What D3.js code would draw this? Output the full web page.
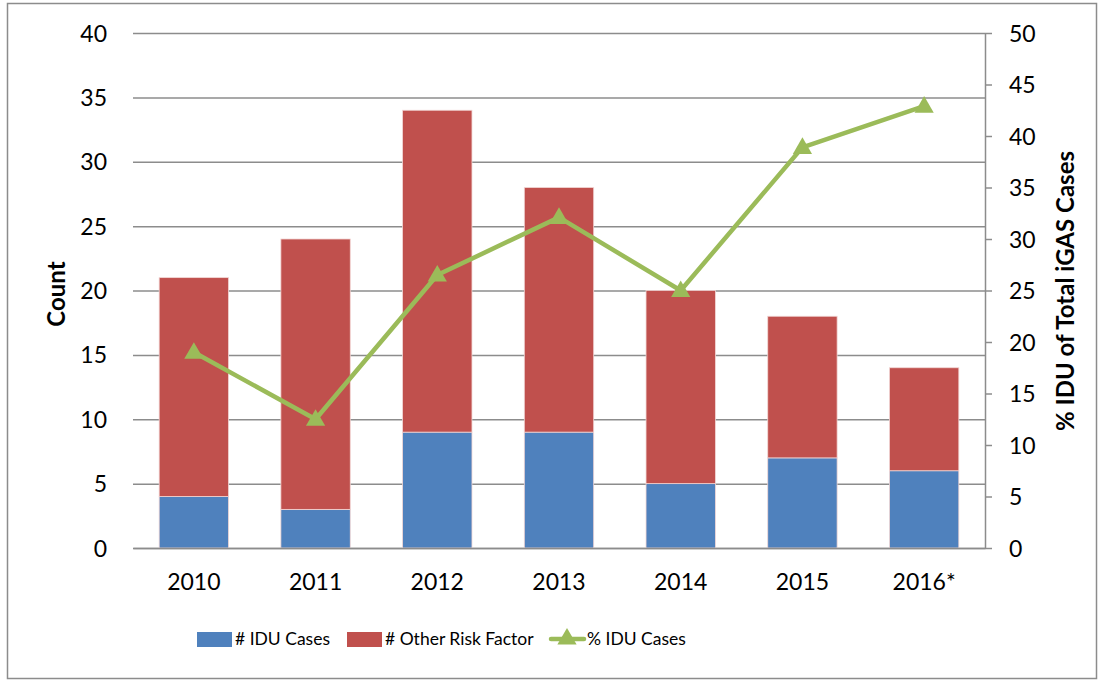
<!DOCTYPE html>
<html>
<head>
<meta charset="utf-8">
<script src="https://cdn.jsdelivr.net/npm/d3@7"></script>
<style>
  body { margin: 0; background: #fff; }
  svg text { font-family: Lato, sans-serif; fill: #000; }
</style>
</head>
<body>
<svg id="chart"></svg>
<script>
// chart data
const years = ["2010", "2011", "2012", "2013", "2014", "2015", "2016*"];
const iduCases = [4, 3, 9, 9, 5, 7, 6];
const otherRisk = [17, 21, 25, 19, 15, 11, 8];
const pctIdu = [19.0, 12.5, 26.5, 32.1, 25.0, 38.9, 42.9];
const leftTicks = [0, 5, 10, 15, 20, 25, 30, 35, 40];
const rightTicks = [0, 5, 10, 15, 20, 25, 30, 35, 40, 45, 50];
const legendNames = ["# IDU Cases", "# Other Risk Factor", "% IDU Cases"];

const width = 1103;
const height = 681;
const plotLeft = 133, plotRight = 985, plotTop = 33, plotBottom = 548;

const blue = "#4f81bd", red = "#c0504d", green = "#9bbb59", grid = "#8c8c8c";

const svg = d3.select("#chart")
  .attr("width", width)
  .attr("height", height);

// outer frame
svg.append("rect")
  .attr("x", 7.5).attr("y", 3.5)
  .attr("width", 1089).attr("height", 675)
  .attr("fill", "#fff")
  .attr("stroke", "#8c8c8c")
  .attr("stroke-width", 1.5);

const x = d3.scaleBand()
  .domain(years)
  .range([plotLeft, plotRight])
  .paddingInner(0.43)
  .paddingOuter(0.215);

const y = d3.scaleLinear().domain([0, 40]).range([plotBottom, plotTop]);
const y2 = d3.scaleLinear().domain([0, 50]).range([plotBottom, plotTop]);

// gridlines from left axis
const yAxis = d3.axisLeft(y)
  .tickValues(leftTicks)
  .tickSize(-(plotRight - plotLeft))
  .tickPadding(26);

svg.append("g")
  .attr("transform", `translate(${plotLeft},0)`)
  .call(yAxis)
  .call(g => g.select(".domain").remove())
  .call(g => g.selectAll("line").attr("stroke", grid).attr("stroke-width", 1.5))
  .call(g => g.selectAll("text").style("font-size", "23px").attr("dy", "0.35em"));

// right axis
const y2Axis = d3.axisRight(y2)
  .tickValues(rightTicks)
  .tickSize(7)
  .tickSizeOuter(0)
  .tickPadding(17);

svg.append("g")
  .attr("transform", `translate(${plotRight},0)`)
  .call(y2Axis)
  .call(g => g.select(".domain").attr("stroke", grid).attr("stroke-width", 1.5))
  .call(g => g.selectAll("line").attr("stroke", grid).attr("stroke-width", 1.5))
  .call(g => g.selectAll("text").style("font-size", "23px").attr("dy", "0.35em"));

// stacked bars
const stackData = years.map((yr, i) => ({ year: yr, idu: iduCases[i], other: otherRisk[i] }));
const series = d3.stack().keys(["idu", "other"])(stackData);
const colors = { idu: blue, other: red };

svg.append("g")
  .selectAll("g")
  .data(series)
  .enter()
  .append("g")
    .attr("fill", d => colors[d.key])
  .selectAll("rect")
  .data(d => d)
  .enter()
  .append("rect")
    .attr("x", d => x(d.data.year))
    .attr("width", x.bandwidth())
    .attr("y", d => y(d[1]))
    .attr("height", d => y(d[0]) - y(d[1]))
    .attr("stroke", "#f2d6d5")
    .attr("stroke-width", 0.8);

// x labels
svg.append("g")
  .attr("transform", `translate(0,${plotBottom})`)
  .call(d3.axisBottom(x).tickSize(0).tickPadding(26))
  .call(g => g.select(".domain").attr("stroke", grid).attr("stroke-width", 1.5))
  .call(g => g.selectAll("text").style("font-size", "23px"));

// line
const line = d3.line()
  .x((d, i) => x(years[i]) + x.bandwidth() / 2)
  .y(d => y2(d));

svg.append("path")
  .datum(pctIdu)
  .attr("d", line)
  .attr("fill", "none")
  .attr("stroke", green)
  .attr("stroke-width", 4.5)
  .attr("stroke-linejoin", "round");

const tri = d3.symbol().type(d3.symbolTriangle).size(160);

svg.append("g")
  .selectAll("path")
  .data(pctIdu)
  .enter()
  .append("path")
    .attr("d", tri)
    .attr("transform", (d, i) => `translate(${x(years[i]) + x.bandwidth() / 2},${y2(d) + 1})`)
    .attr("fill", green);

// axis titles
svg.append("text")
  .attr("transform", "rotate(-90)")
  .attr("x", -294)
  .attr("y", 65)
  .style("text-anchor", "middle")
  .style("font-size", "24px")
  .style("font-weight", "bold")
  .text("Count");

svg.append("text")
  .attr("transform", "rotate(-90)")
  .attr("x", -291)
  .attr("y", 1074)
  .style("text-anchor", "middle")
  .style("font-size", "24px")
  .style("font-weight", "bold")
  .text("% IDU of Total iGAS Cases");

// legend
const legendX = [197, 347, 549];
const legend = svg.append("g").attr("transform", "translate(0,639)");
legendNames.forEach((name, i) => {
  const lx = legendX[i];
  if (i < 2) {
    legend.append("rect").attr("x", lx).attr("y", -7).attr("width", 35).attr("height", 15)
      .attr("fill", i === 0 ? blue : red);
  } else {
    legend.append("line").attr("x1", lx + 2).attr("x2", lx + 35).attr("y1", 0).attr("y2", 0)
      .attr("stroke", green).attr("stroke-width", 4.5).attr("stroke-linecap", "round");
    legend.append("path").attr("d", tri).attr("transform", `translate(${lx + 18},0)`).attr("fill", green);
  }
  legend.append("text")
    .attr("x", lx + 38)
    .attr("y", 0)
    .attr("dy", "0.35em")
    .style("font-size", "17.5px")
    .text(name);
});
</script>
</body>
</html>
